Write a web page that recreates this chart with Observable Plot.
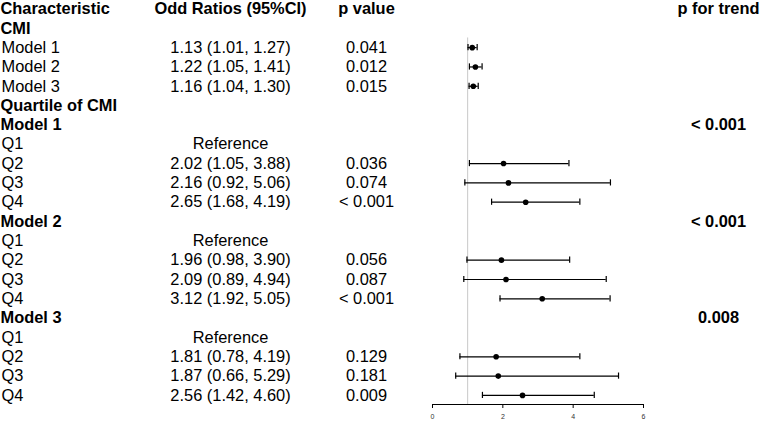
<!DOCTYPE html>
<html>
<head>
<meta charset="utf-8">
<script src="https://cdn.jsdelivr.net/npm/d3@7"></script>
<script src="https://cdn.jsdelivr.net/npm/@observablehq/plot@0.6"></script>
<style>
  html, body { margin: 0; padding: 0; background: #fff; }
  #chart svg { display: block; overflow: visible; }
</style>
</head>
<body>
<div id="chart"></div>
<script>
// ---- data ----
const headers = ["Characteristic", "Odd Ratios (95%CI)", "p value", "p for trend"];
const labels = ["CMI", "Model 1", "Model 2", "Model 3", "Quartile of CMI",
  "Model 1", "Q1", "Q2", "Q3", "Q4",
  "Model 2", "Q1", "Q2", "Q3", "Q4",
  "Model 3", "Q1", "Q2", "Q3", "Q4"];
const boldRow = [true, false, false, false, true,
  true, false, false, false, false,
  true, false, false, false, false,
  true, false, false, false, false];
const oddsRatio = [null, 1.13, 1.22, 1.16, null,
  null, null, 2.02, 2.16, 2.65,
  null, null, 1.96, 2.09, 3.12,
  null, null, 1.81, 1.87, 2.56];
const lower = [null, 1.01, 1.05, 1.04, null,
  null, null, 1.05, 0.92, 1.68,
  null, null, 0.98, 0.89, 1.92,
  null, null, 0.78, 0.66, 1.42];
const upper = [null, 1.27, 1.41, 1.30, null,
  null, null, 3.88, 5.06, 4.19,
  null, null, 3.90, 4.94, 5.05,
  null, null, 4.19, 5.29, 4.60];
const referenceRow = [false, false, false, false, false,
  false, true, false, false, false,
  false, true, false, false, false,
  false, true, false, false, false];
const pValue = ["", "0.041", "0.012", "0.015", "",
  "", "", "0.036", "0.074", "< 0.001",
  "", "", "0.056", "0.087", "< 0.001",
  "", "", "0.129", "0.181", "0.009"];
const pTrend = ["", "", "", "", "",
  "< 0.001", "", "", "", "",
  "< 0.001", "", "", "", "",
  "0.008", "", "", "", ""];
const xTicks = [0, 2, 4, 6];
const refValue = 1;

// ---- table ----
const rows = labels.map((label, k) => ({
  row: k + 1,
  label,
  bold: boldRow[k],
  or: oddsRatio[k],
  lo: lower[k],
  hi: upper[k],
  orText: referenceRow[k] ? "Reference"
    : (oddsRatio[k] == null ? "" : `${oddsRatio[k].toFixed(2)} (${lower[k].toFixed(2)}, ${upper[k].toFixed(2)})`),
  p: pValue[k],
  trend: pTrend[k]
}));
const est = rows.filter(d => d.or != null);
const headerRow = [{row: 0}];
const yBottom = rows.length + 0.47;

const font = "Liberation Sans, Arial, Helvetica, sans-serif";
const fs = 16.4;
const colOR = 230, colP = 366, colTrend = 718;

const chart = Plot.plot({
  width: 761,
  height: 422,
  marginLeft: 0,
  marginRight: 0,
  marginTop: 0,
  marginBottom: 18,
  style: {fontFamily: font, color: "#000", background: "#fff", overflow: "visible"},
  x: {domain: [0, 6], range: [432, 643]},
  y: {domain: [0, yBottom], range: [8.5, 404], axis: null},
  marks: [
    // reference line
    Plot.ruleX([refValue], {y1: 1.5, y2: yBottom, stroke: "#c8c8c8", strokeWidth: 1}),
    // axis
    Plot.ruleY([yBottom], {x1: xTicks[0], x2: xTicks[xTicks.length - 1], stroke: "#000", strokeWidth: 1}),
    Plot.axisX({ticks: xTicks, tickFormat: "d", tickSize: 4, tickPadding: 6, fontSize: 7, anchor: "bottom", stroke: "#000", fill: "#333"}),
    // error bars
    Plot.ruleY(est, {y: "row", x1: "lo", x2: "hi", stroke: "#000", strokeWidth: 1.2}),
    Plot.ruleX(est, {x: "lo", y1: d => d.row - 0.16, y2: d => d.row + 0.16, stroke: "#000", strokeWidth: 1.2}),
    Plot.ruleX(est, {x: "hi", y1: d => d.row - 0.16, y2: d => d.row + 0.16, stroke: "#000", strokeWidth: 1.2}),
    Plot.dot(est, {x: "or", y: "row", r: 2.8, fill: "#000", stroke: null}),
    // header
    Plot.text(headerRow, {y: "row", text: () => headers[0], frameAnchor: "left", textAnchor: "start", dx: 0, fontSize: fs, fontWeight: "bold"}),
    Plot.text(headerRow, {y: "row", text: () => headers[1], frameAnchor: "left", textAnchor: "middle", dx: colOR, fontSize: fs, fontWeight: "bold"}),
    Plot.text(headerRow, {y: "row", text: () => headers[2], frameAnchor: "left", textAnchor: "middle", dx: colP, fontSize: fs, fontWeight: "bold"}),
    Plot.text(headerRow, {y: "row", text: () => headers[3], frameAnchor: "left", textAnchor: "middle", dx: colTrend, fontSize: fs, fontWeight: "bold"}),
    // labels
    Plot.text(rows.filter(d => d.bold), {y: "row", text: "label", frameAnchor: "left", textAnchor: "start", dx: 0, fontSize: fs, fontWeight: "bold"}),
    Plot.text(rows.filter(d => !d.bold), {y: "row", text: "label", frameAnchor: "left", textAnchor: "start", dx: 1, fontSize: fs}),
    // OR column
    Plot.text(rows.filter(d => d.orText), {y: "row", text: "orText", frameAnchor: "left", textAnchor: "middle", dx: colOR, fontSize: fs}),
    // p value column
    Plot.text(rows.filter(d => d.p), {y: "row", text: "p", frameAnchor: "left", textAnchor: "middle", dx: colP, fontSize: fs}),
    // p for trend
    Plot.text(rows.filter(d => d.trend), {y: "row", text: "trend", frameAnchor: "left", textAnchor: "middle", dx: colTrend, fontSize: fs, fontWeight: "bold"})
  ]
});
document.getElementById("chart").appendChild(chart);
</script>
</body>
</html>
